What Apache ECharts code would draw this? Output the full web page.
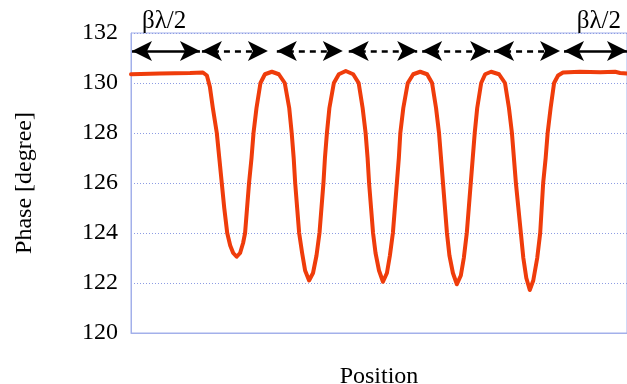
<!DOCTYPE html>
<html>
<head>
<meta charset="utf-8">
<script src="https://cdn.jsdelivr.net/npm/echarts@6/dist/echarts.min.js"></script>
<style>
  html, body { margin: 0; padding: 0; background: #fff; }
  #chart { width: 627px; height: 384px; }
</style>
</head>
<body>
<div id="chart"></div>
<script>
// position along the structure (0..100), phase in degrees
const posX = [
  0, 5.8, 11.9, 14.5, 15.3, 15.9, 16.5, 17.3, 17.8, 18.3, 18.8, 19.4, 20.0, 20.6, 21.3, 22.0, 22.6, 23.0, 23.4, 23.8, 24.3, 24.7, 25.3, 26.1, 27.0, 28.4,
  29.8, 31.0, 31.9, 32.4, 32.8, 33.1, 33.5, 33.9, 34.5, 35.1, 35.9, 36.7, 37.4, 38.0, 38.4, 38.8, 39.1, 39.5, 40.0, 40.9, 41.9, 43.3,
  44.8, 45.9, 46.7, 47.3, 47.7, 48.0, 48.4, 48.8, 49.3, 50.0, 50.8, 51.6, 52.2, 52.8, 53.2, 53.6, 54.0, 54.3, 54.9, 55.8, 56.9, 58.3,
  59.7, 60.7, 61.5, 62.1, 62.5, 62.9, 63.3, 63.7, 64.2, 64.9, 65.7, 66.5, 67.1, 67.7, 68.1, 68.5, 68.9, 69.3, 69.8, 70.6, 71.4, 72.6,
  74.2, 75.4, 76.2, 76.8, 77.2, 77.6, 78.1, 78.6, 79.1, 79.7, 80.4, 81.1, 81.9, 82.5, 82.8, 83.1, 83.6, 84.0, 84.6, 85.3, 86.1, 87.1,
  90.5, 94.6, 97.6, 98.6, 100
];
const phase = [
  130.35, 130.38, 130.4, 130.42, 130.3, 129.85, 129.0, 128.0, 127.0, 126.0, 125.0, 124.0, 123.5, 123.2, 123.05, 123.2, 123.6, 124.0, 125.0, 126.0, 127.0, 128.0, 129.0, 130.0, 130.35, 130.45,
  130.35, 130.0, 129.0, 128.0, 127.0, 126.0, 125.0, 124.0, 123.2, 122.5, 122.1, 122.4, 123.1, 124.0, 125.0, 126.0, 127.0, 128.0, 129.0, 130.0, 130.35, 130.48,
  130.35, 130.0, 129.0, 128.0, 127.0, 126.0, 125.0, 124.0, 123.2, 122.5, 122.05, 122.4, 123.1, 124.0, 125.0, 126.0, 127.0, 128.0, 129.0, 130.0, 130.35, 130.45,
  130.35, 130.0, 129.0, 128.0, 127.0, 126.0, 125.0, 124.0, 123.1, 122.4, 121.95, 122.3, 123.0, 124.0, 125.0, 126.0, 127.0, 128.0, 129.0, 130.0, 130.35, 130.45,
  130.35, 130.0, 129.0, 128.0, 127.0, 126.0, 125.0, 124.0, 123.0, 122.2, 121.72, 122.1, 123.0, 124.0, 125.0, 126.0, 127.0, 128.0, 129.0, 130.0, 130.3, 130.42,
  130.45, 130.43, 130.45, 130.4, 130.38
];

// βλ/2 spans marked above the curve
const arrowStart = [0.2, 14.3, 29.4, 43.9, 58.7, 73.2, 87.3];
const arrowEnd = [13.9, 27.6, 42.7, 57.7, 72.4, 86.5, 100];
const arrowDashed = [false, true, true, true, true, true, false];
const arrowLevel = 131.28;

const yTicks = { min: 120, max: 132, step: 2 };

const chart = echarts.init(document.getElementById('chart'));

const arrowLines = arrowStart.map((s, i) => [
  { coord: [s, arrowLevel], lineStyle: { type: arrowDashed[i] ? [6, 5] : 'solid' } },
  { coord: [arrowEnd[i], arrowLevel] }
]);

const serif = 'Liberation Serif';

const option = {
  animation: false,
  grid: {
    left: 131, right: 0, top: 33, bottom: 51,
    outerBoundsMode: 'none',
    containLabel: false,
    show: true, borderColor: '#a3b0ea', borderWidth: 1
  },
  xAxis: {
    type: 'value', min: 0, max: 100,
    name: 'Position', nameLocation: 'middle', nameGap: 32,
    nameTextStyle: { fontFamily: serif, fontSize: 24, color: '#000' },
    axisLine: { show: true, lineStyle: { color: '#a3b0ea', width: 1 } },
    axisTick: { show: false },
    axisLabel: { show: false },
    splitLine: { show: false }
  },
  yAxis: {
    type: 'value', min: yTicks.min, max: yTicks.max, interval: yTicks.step,
    name: 'Phase [degree]', nameLocation: 'middle', nameGap: 94,
    nameTextStyle: { fontFamily: serif, fontSize: 24, color: '#000' },
    axisLine: { show: true, lineStyle: { color: '#a3b0ea', width: 1 } },
    axisTick: { show: false },
    axisLabel: { fontFamily: serif, fontSize: 24, color: '#000', margin: 13 },
    splitLine: { show: true, lineStyle: { color: '#8d9ce3', width: 1, type: [1, 2] } }
  },
  graphic: [
    { type: 'text', left: 142, top: 9, style: { text: 'βλ/2', font: '25px "Liberation Serif"', fill: '#000' } },
    { type: 'text', right: 6, top: 9, style: { text: 'βλ/2', font: '25px "Liberation Serif"', fill: '#000' } }
  ],
  series: [
    {
      type: 'line',
      data: posX.map((x, i) => [x, phase[i]]),
      smooth: false,
      symbol: 'none',
      lineStyle: { color: '#ef3c0b', width: 4, join: 'round', cap: 'round' },
      markLine: {
        silent: true,
        symbol: ['arrow', 'arrow'],
        symbolSize: [15, 20],
        label: { show: false },
        lineStyle: { color: '#000', width: 2.5, type: 'solid' },
        itemStyle: { color: '#000' },
        data: arrowLines
      }
    }
  ]
};

chart.setOption(option);
</script>
</body>
</html>
